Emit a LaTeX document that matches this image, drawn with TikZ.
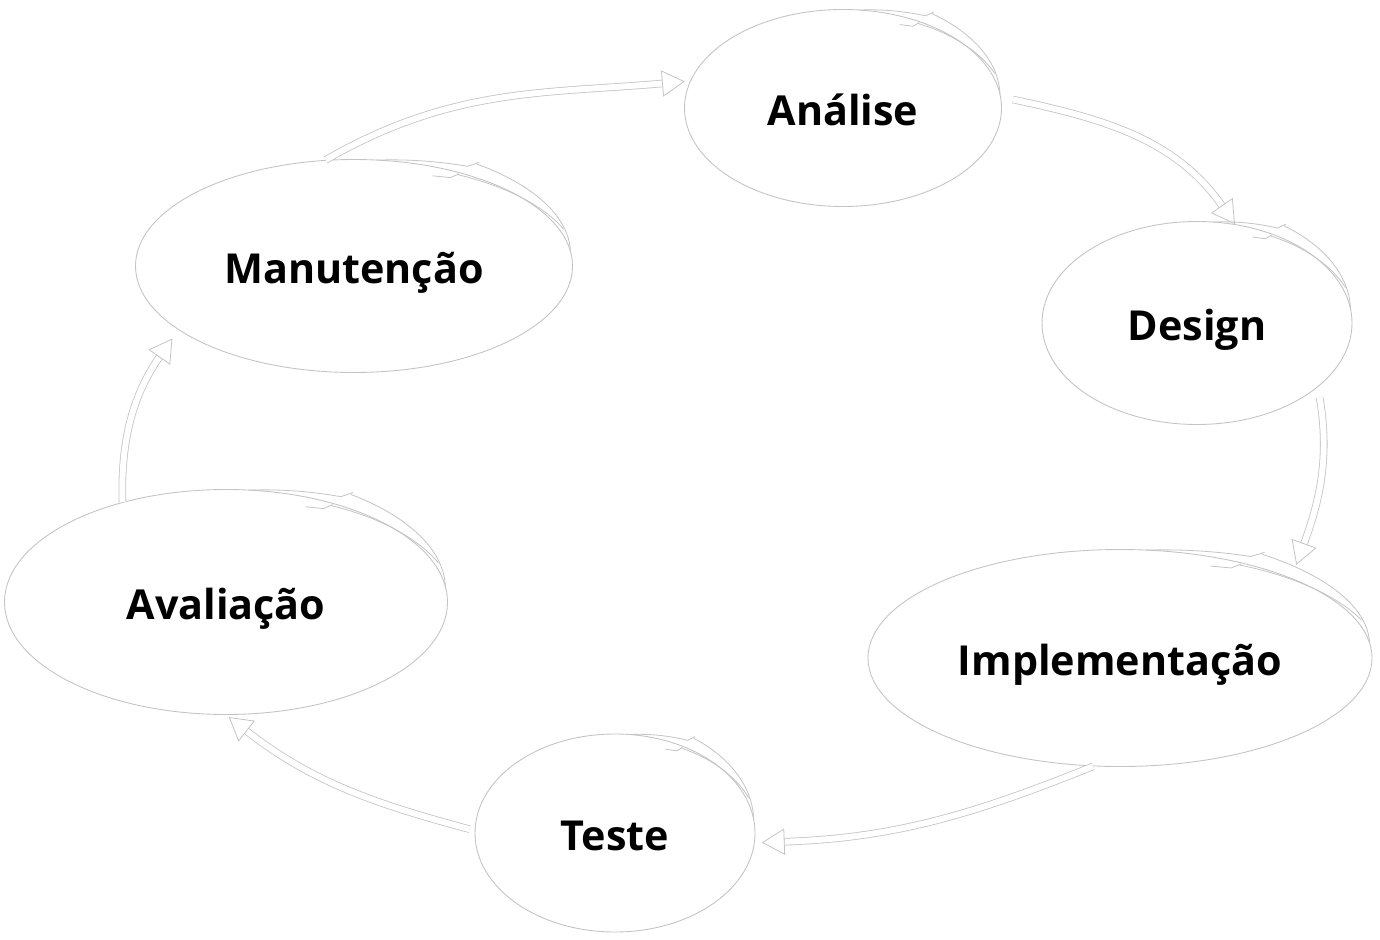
\documentclass[tikz,border=0pt]{standalone}
\usepackage{fontspec}
\setmainfont{Open Sans}
\usepackage{tikz}
\usetikzlibrary{shapes.geometric,arrows.meta,positioning,calc}

\definecolor{rim}{HTML}{C4C4C4}

\tikzset{
  phase/.style={ellipse, draw=rim, line width=0.5pt, inner sep=0pt,
    text height=26pt, text depth=5.6pt,
    font=\fontsize{23.5}{28}\selectfont\bfseries},
  flow/.style={draw=rim, line width=0.45pt, double=white, double distance=3.4pt,
    -{Triangle[open,length=13pt,width=15pt]}},
  curl/.style={draw=rim, line width=0.45pt}
}

% hand drawn curl on the top right of a phase (centre x, centre y, rx, ry)
\newcommand{\swirl}[4]{%
  \draw[curl] plot[domain=84:61,samples=15,smooth] ({#1+(1+0.07*(84-\x)/23)*#3*cos(\x)},{#2+(1+0.07*(84-\x)/23)*#4*sin(\x)})
    -- ({#1+1.13*#3*cos(59.5)},{#2+1.13*#4*sin(59.5)})
    plot[domain=59.5:8,samples=30,smooth] ({#1+(1+0.11*(\x-8)/51.5)*#3*cos(\x)},{#2+(1+0.11*(\x-8)/51.5)*#4*sin(\x)});
  \draw[curl] ({#1+0.92*#3*cos(67)},{#2+0.92*#4*sin(67)}) -- ({#1+0.94*#3*cos(62)},{#2+0.94*#4*sin(62)})
    -- ({#1+0.99*#3*cos(61)},{#2+0.99*#4*sin(61)})
    plot[domain=61:20,samples=30,smooth] ({#1+(1.02-0.04*(\x-20)/41)*#3*cos(\x)},{#2+(1.02-0.04*(\x-20)/41)*#4*sin(\x)});
}

\begin{document}
\begin{tikzpicture}
  \fill[white] (0,0) rectangle (27.6,-18.8);
  \useasboundingbox (0,0) rectangle (27.6,-18.8);

  % phases of the cycle
  \node[phase, minimum width=6.34cm, minimum height=3.94cm] (ana) at (16.86,-2.16) {Análise};
  \node[phase, minimum width=6.2cm, minimum height=4.06cm] (des) at (23.94,-6.46) {Design};
  \node[phase, minimum width=10.08cm, minimum height=4.34cm] (imp) at (22.4,-13.16) {Implementação};
  \node[phase, minimum width=5.6cm, minimum height=3.96cm] (tes) at (12.3,-16.66) {Teste};
  \node[phase, minimum width=8.86cm, minimum height=4.5cm] (ava) at (4.52,-12.04) {Avaliação};
  \node[phase, minimum width=8.74cm, minimum height=4.26cm] (man) at (7.08,-5.32) {Manutenção};

  \swirl{16.86}{-2.16}{3.17}{1.97}
  \swirl{23.94}{-6.46}{3.1}{2.03}
  \swirl{22.4}{-13.16}{5.04}{2.17}
  \swirl{12.3}{-16.66}{2.8}{1.98}
  \swirl{4.52}{-12.04}{4.43}{2.25}
  \swirl{7.08}{-5.32}{4.37}{2.13}

  % arrows between phases
  \draw[flow, shorten >=3pt] (man.105) to[out=30,in=185] (ana.170);
  \draw[flow, shorten <=7pt] (ana.4) to[out=-12,in=125] (des.69);
  \draw[flow, shorten <=6pt, shorten >=8pt] (des.-28) to[out=-80,in=70] (imp.25);
  \draw[flow, shorten >=4pt] (imp.-104) to[out=-158,in=2] (tes.-4);
  \draw[flow, shorten <=3pt, shorten >=2pt] (tes.179) to[out=165,in=-38] (ava.-90);
  \draw[flow, shorten >=6pt] (ava.136) to[out=92,in=-125] (man.200);
\end{tikzpicture}
\end{document}
